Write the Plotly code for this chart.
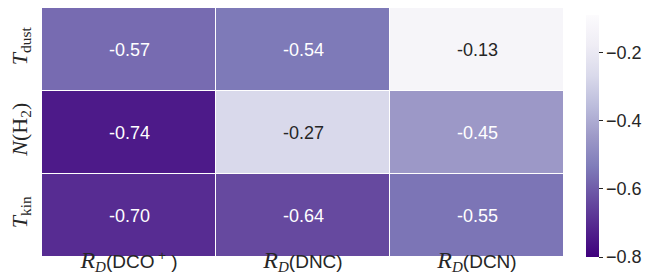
import plotly.graph_objects as go

x_labels = ["R_D(DCO+)", "R_D(DNC)", "R_D(DCN)"]
y_labels = ["T_dust", "N(H2)", "T_kin"]
values = [
    [-0.57, -0.54, -0.13],
    [-0.74, -0.27, -0.45],
    [-0.70, -0.64, -0.55],
]
cbar_ticks = [-0.8, -0.6, -0.4, -0.2]

SERIF = "Liberation Serif, DejaVu Serif, serif"
SANS = "Liberation Sans, Arial, sans-serif"

def rd(mol):
    return (f"<span style='font-family:{SERIF};font-size:24px'><i>R</i></span>"
            f"<sub><span style='font-family:{SERIF};font-size:15px'><i>D</i></span></sub>({mol})")

x_text = [rd("DCO<sup> +</sup> "), rd("DNC"), rd("DCN")]
y_text = [
    "<i>T</i><sub>dust</sub>",
    "<i>N</i>(H<sub>2</sub>)",
    "<i>T</i><sub>kin</sub>",
]

purples_r = [
    [0.0, "#3f007d"], [0.125, "#54278f"], [0.25, "#6a51a3"], [0.375, "#807dba"],
    [0.5, "#9e9ac8"], [0.625, "#bcbddc"], [0.75, "#dadaeb"], [0.875, "#efedf5"],
    [1.0, "#fcfbfd"],
]

fig = go.Figure(go.Heatmap(
    z=values, x=x_labels, y=y_labels,
    colorscale=purples_r, zmin=-0.8, zmax=-0.09,
    xgap=1, ygap=1,
    colorbar=dict(
        thickness=13, len=242 / 249, lenmode="fraction",
        x=(578 - 34) / 522, xanchor="left", xpad=0,
        y=0, yanchor="bottom", ypad=0,
        outlinewidth=0, tickvals=cbar_ticks,
        ticktext=[f"{t:.1f}".replace("-", "\u2212") for t in cbar_ticks],
        ticks="outside", ticklen=4, tickcolor="#262626",
        tickfont=dict(family=SANS, size=18, color="#262626"),
        title=dict(text=""),
    ),
    hoverinfo="skip",
))

for i, row in enumerate(values):
    for j, v in enumerate(row):
        fig.add_annotation(
            x=x_labels[j], y=y_labels[i], text=f"{v:.2f}",
            showarrow=False,
            font=dict(family=SANS, size=18, color="#262626" if v > -0.35 else "white"),
        )

fig.add_annotation(
    xref="paper", yref="paper", x=(654 - 34) / 522, y=0.5, text="<i>r</i>",
    showarrow=False, xanchor="center", yanchor="middle", borderpad=0,
    font=dict(family=SERIF, size=18, color="#262626"),
)

fig.update_xaxes(
    tickvals=x_labels, ticktext=x_text, showgrid=False, zeroline=False,
    tickfont=dict(family=SANS, size=19, color="#262626"), ticks="",
    ticklabelstandoff=-9, automargin=False,
)
fig.update_yaxes(
    tickvals=y_labels, ticktext=y_text, autorange="reversed", showgrid=False, zeroline=False,
    tickangle=-90, tickfont=dict(family=SERIF, size=22, color="#262626"), ticks="",
    ticklabelstandoff=10, automargin=False,
)
fig.update_layout(
    width=663, height=276,
    margin=dict(l=34, r=107, t=0, b=27),
    paper_bgcolor="white", plot_bgcolor="white",
)
fig.write_html("out.html")
